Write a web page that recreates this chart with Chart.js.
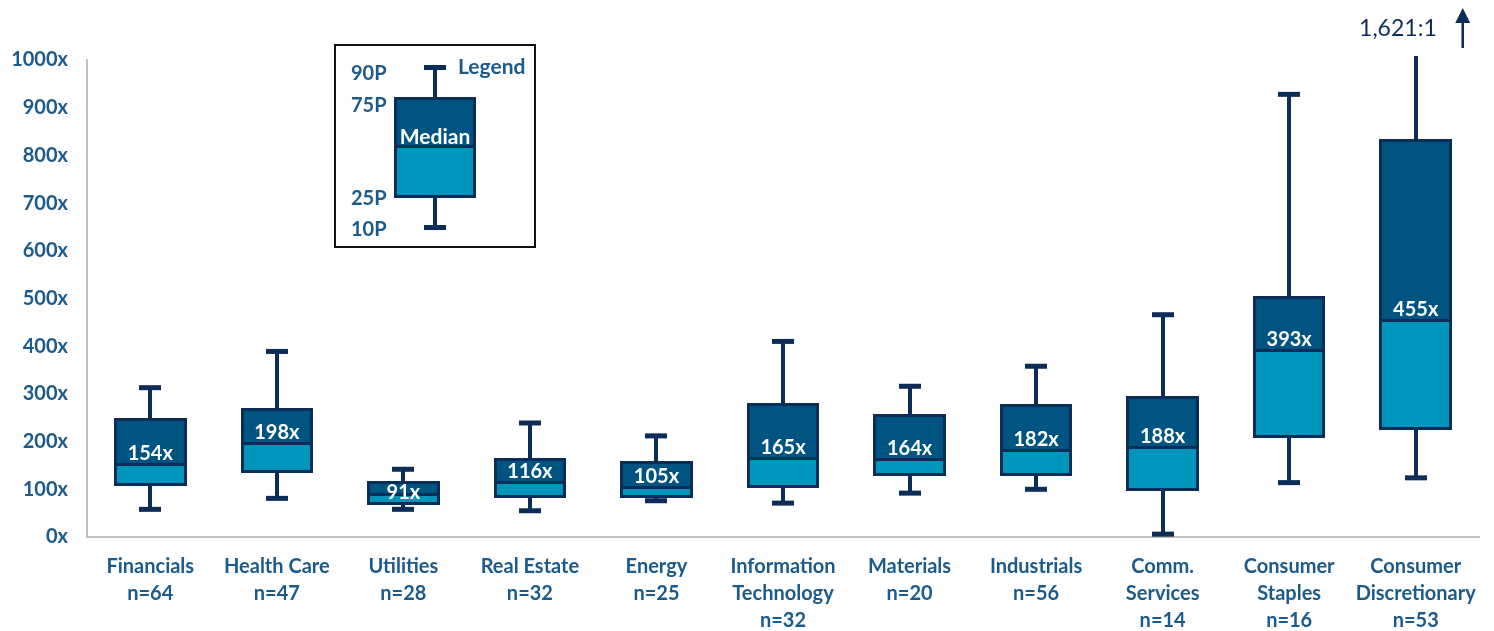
<!DOCTYPE html>
<html><head><meta charset="utf-8">
<script src="https://cdn.jsdelivr.net/npm/chart.js@4.4.1/dist/chart.umd.min.js"></script>
<style>
html,body{margin:0;padding:0;background:#fff;}
#wrap{position:relative;width:1494px;height:631px;overflow:hidden;}
#c{position:absolute;left:0;top:0;}
.abs{position:absolute;box-sizing:border-box;}
.lt{position:absolute;font-family:Lato,sans-serif;font-weight:700;font-size:20px;line-height:1;color:#1B5A8C;transform:translateY(-50%);white-space:nowrap;}
</style></head><body>
<div id="wrap">
<canvas id="c" width="1494" height="631"></canvas>
<div class="abs" style="left:334px;top:44px;width:202px;height:204px;border:2px solid #111;"></div>
<div class="abs" style="left:433px;top:67px;width:4px;height:32px;background:#0C2D57;"></div>
<div class="abs" style="left:424px;top:65px;width:22px;height:5px;background:#0C2D57;"></div>
<div class="abs" style="left:433px;top:195px;width:4px;height:32px;background:#0C2D57;"></div>
<div class="abs" style="left:424px;top:225px;width:22px;height:5px;background:#0C2D57;"></div>
<div class="abs" style="left:394px;top:97px;width:82px;height:51px;background:#005482;border:3px solid #0C2D57;"></div>
<div class="abs" style="left:394px;top:145px;width:82px;height:53px;background:#0096BC;border:3px solid #0C2D57;"></div>
<div class="lt" style="left:351px;top:72px;">90P</div>
<div class="lt" style="left:351px;top:104px;">75P</div>
<div class="lt" style="left:351px;top:197px;">25P</div>
<div class="lt" style="left:351px;top:228px;">10P</div>
<div class="lt" style="left:458px;top:65px;font-size:21px;">Legend</div>
<div class="lt" style="left:394px;width:82px;text-align:center;top:135px;color:#fff;font-size:21px;">Median</div>
</div>
<script>
const categories = ['Financials','Health Care','Utilities','Real Estate','Energy','Information|Technology','Materials','Industrials','Comm.|Services','Consumer|Staples','Consumer|Discretionary'];
const sampleSizes = [64,47,28,32,25,32,20,56,14,16,53];
const p10    = [58, 81, 58, 55, 76, 71, 92, 100, 6, 114, 124];
const p25    = [108, 136, 70, 84, 84, 105, 129, 129, 98, 210, 227];
const median = [154, 198, 91, 116, 105, 165, 164, 182, 188, 393, 455];
const p75    = [248, 269, 116, 164, 158, 279, 255, 276, 294, 504, 833];
const p90    = [313, 389, 142, 239, 212, 410, 316, 358, 466, 928, 1621];
const yTicks = [0,100,200,300,400,500,600,700,800,900,1000];

const NAVY = '#0C2D57', DARK = '#005482', TEAL = '#0096BC', TXT = '#1B5A8C', AXIS = '#BFBFBF';
const FONT = 'Lato, sans-serif';

const labels = categories.map((c,i)=>[...c.split('|'), 'n=' + sampleSizes[i]]);

const extras = {
  id:'boxExtras',
  beforeDatasetsDraw(chart){
    const {ctx, chartArea:a, scales:{x,y}} = chart;
    ctx.save();
    ctx.beginPath(); ctx.rect(a.left, a.top-4, a.right-a.left, a.bottom-a.top+8); ctx.clip();
    ctx.strokeStyle = NAVY; ctx.fillStyle = NAVY; ctx.lineWidth = 4;
    categories.forEach((c,i)=>{
      const px = Math.round(x.getPixelForValue(i));
      ctx.beginPath();
      ctx.moveTo(px, y.getPixelForValue(p75[i])); ctx.lineTo(px, y.getPixelForValue(p90[i]));
      ctx.moveTo(px, y.getPixelForValue(p25[i])); ctx.lineTo(px, y.getPixelForValue(p10[i]));
      ctx.stroke();
      [p90[i], p10[i]].forEach(v=>{
        const py = y.getPixelForValue(v);
        ctx.fillRect(px-11, py-2.5, 22, 5);
      });
    });
    ctx.restore();
  },
  afterDatasetsDraw(chart){
    const {ctx, chartArea:a, scales:{x,y}} = chart;
    const meta = chart.getDatasetMeta(1);
    ctx.save();
    // box outlines + median line
    ctx.strokeStyle = NAVY; ctx.lineWidth = 3; ctx.lineJoin = 'miter';
    categories.forEach((c,i)=>{
      const bar = meta.data[i];
      const l = Math.round(bar.x - bar.width/2) + 0.5, r = Math.round(bar.x + bar.width/2) - 0.5;
      const t = Math.round(y.getPixelForValue(p75[i])) + 0.5, b = Math.round(y.getPixelForValue(p25[i])) - 0.5;
      const m = Math.round(y.getPixelForValue(median[i])) + 0.5;
      ctx.strokeRect(l, t, r - l, b - t);
      ctx.beginPath(); ctx.moveTo(l, m); ctx.lineTo(r, m); ctx.stroke();
    });
    // median labels
    ctx.font = 'bold 20px ' + FONT;
    ctx.fillStyle = '#fff'; ctx.textAlign = 'center'; ctx.textBaseline = 'alphabetic';
    const cap = 14;
    categories.forEach((c,i)=>{
      const px = x.getPixelForValue(i);
      const ym = y.getPixelForValue(median[i]);
      const top = y.getPixelForValue(p75[i]);
      let base = ym - 4;
      if (base - cap < top + 3) base = top + 3 + cap;
      ctx.fillText(median[i] + 'x', px, base);
    });
    // overflow annotation
    categories.forEach((c,i)=>{
      if (p90[i] > y.max) {
        const px = x.getPixelForValue(i);
        ctx.fillStyle = NAVY;
        ctx.font = '23px ' + FONT;
        ctx.textAlign = 'right'; ctx.textBaseline = 'middle';
        ctx.fillText(p90[i].toLocaleString('en-US') + ':1', px + 21, a.top - 31);
        const ax = px + 47;
        ctx.strokeStyle = NAVY; ctx.lineWidth = 2.5;
        ctx.beginPath(); ctx.moveTo(ax, a.top - 12); ctx.lineTo(ax, a.top - 40); ctx.stroke();
        ctx.beginPath(); ctx.moveTo(ax, a.top - 52); ctx.lineTo(ax - 7.5, a.top - 37); ctx.lineTo(ax + 7.5, a.top - 37); ctx.closePath(); ctx.fill();
      }
    });
    ctx.restore();
  }
};

new Chart(document.getElementById('c'), {
  type:'bar',
  data:{
    labels,
    datasets:[
      { data: p25.map((v,i)=>[v, median[i]]), backgroundColor: TEAL, borderWidth: 0, grouped: false, order: 2 },
      { data: median.map((v,i)=>[v, p75[i]]), backgroundColor: DARK, borderWidth: 0, grouped: false, order: 1 }
    ]
  },
  options:{
    responsive:false, animation:false,
    layout:{ padding:{ top:60, right:15, left:0, bottom:0 } },
    datasets:{ bar:{ categoryPercentage:1, barPercentage:0.557 } },
    plugins:{ legend:{display:false}, tooltip:{enabled:false} },
    scales:{
      x:{
        grid:{ display:false, drawTicks:false },
        border:{ display:true, color:AXIS, width:2 },
        ticks:{ color:TXT, font:{ family:FONT, weight:'bold', size:20, lineHeight:'27px' }, padding:16, maxRotation:0, autoSkip:false },
        afterFit(s){ s.height = 94; }
      },
      y:{
        min:0, max:1000,
        afterBuildTicks(s){ s.ticks = yTicks.map(v=>({value:v})); },
        grid:{ display:false, drawTicks:false },
        border:{ display:true, color:AXIS, width:2 },
        ticks:{ color:TXT, font:{ family:FONT, weight:'bold', size:20 }, padding:19, callback:v=>v+'x' },
        afterFit(s){ s.width = 87; }
      }
    }
  },
  plugins:[extras]
});
</script>
</body></html>
